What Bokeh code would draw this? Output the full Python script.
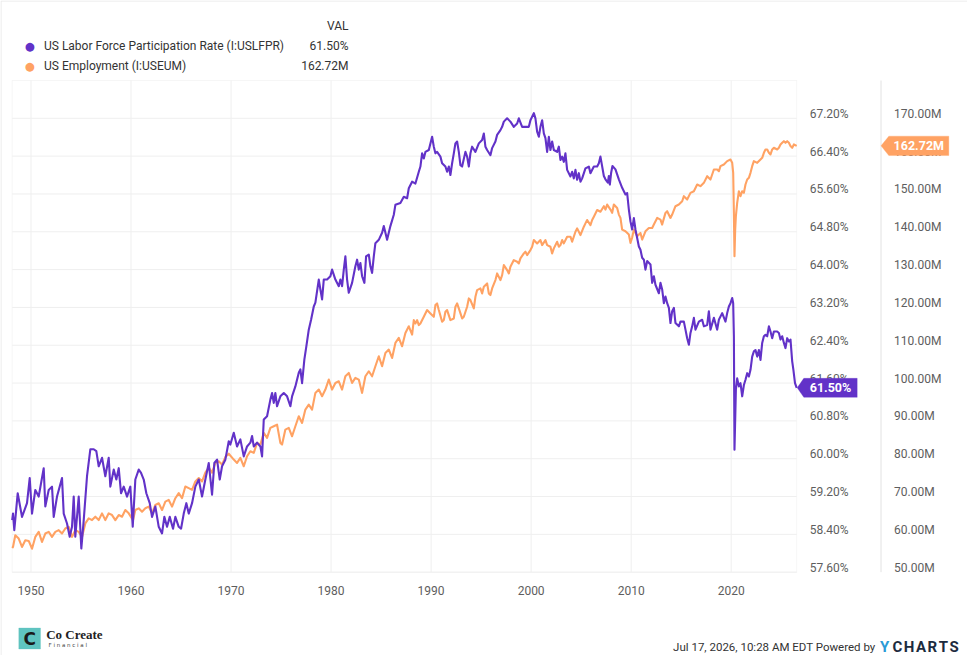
from bokeh.plotting import figure
from bokeh.models import (Range1d, LinearAxis, FixedTicker, PrintfTickFormatter,
                          Label, PolyAnnotation, BoxAnnotation)
from bokeh.embed import file_html
from bokeh.resources import INLINE

# ---------------- data ----------------
lfpr_year = [
    1948.12, 1948.2, 1948.33, 1948.67, 1949.1, 1949.6, 1949.87, 1950.1, 1950.43, 1950.77,
    1951.27, 1951.43, 1951.77, 1952.1, 1952.27, 1952.6, 1953.1, 1953.27, 1953.6, 1953.87,
    1954.1, 1954.27, 1954.43, 1954.77, 1955.03, 1955.27, 1955.6, 1955.93, 1956.27, 1956.53,
    1956.77, 1957.1, 1957.43, 1957.77, 1957.93, 1958.27, 1958.53, 1958.77, 1959.0, 1959.27,
    1959.6, 1959.93, 1960.17, 1960.43, 1960.77, 1961.0, 1961.27, 1961.53, 1961.87, 1962.1,
    1962.43, 1962.77, 1963.1, 1963.33, 1963.6, 1963.87, 1964.2, 1964.43, 1964.77, 1965.0,
    1965.27, 1965.53, 1965.77, 1966.1, 1966.43, 1966.77, 1967.1, 1967.43, 1967.77, 1968.1,
    1968.33, 1968.6, 1968.87, 1969.1, 1969.43, 1969.77, 1969.93,
    1970.27, 1970.6, 1970.93, 1971.27, 1971.6, 1971.93, 1972.1, 1972.27, 1972.6, 1972.93,
    1973.1, 1973.27, 1973.6, 1973.93, 1974.1, 1974.27, 1974.43, 1974.6, 1974.93, 1975.27,
    1975.6, 1975.93, 1976.1, 1976.43, 1976.77, 1976.93, 1977.1, 1977.33, 1977.53, 1977.77,
    1978.0, 1978.27, 1978.43, 1978.77, 1978.93, 1979.1, 1979.27, 1979.6, 1979.93, 1980.1,
    1980.43, 1980.77, 1980.93, 1981.1, 1981.27, 1981.43, 1981.6, 1981.77, 1982.1, 1982.43,
    1982.6, 1982.77, 1982.93, 1983.1, 1983.33, 1983.5, 1983.77, 1983.93, 1984.1, 1984.27,
    1984.43, 1984.77, 1985.1, 1985.27, 1985.6, 1985.93, 1986.27, 1986.43, 1986.93, 1987.27,
    1987.6, 1987.77, 1988.1, 1988.43, 1988.77, 1988.93,
    1989.1, 1989.27, 1989.43, 1989.77, 1990.1, 1990.27, 1990.43, 1990.6, 1990.93, 1991.1,
    1991.43, 1991.6, 1991.77, 1991.93, 1992.1, 1992.27, 1992.43, 1992.6, 1992.77, 1992.93,
    1993.1, 1993.43, 1993.6, 1993.77, 1993.93, 1994.1, 1994.43, 1994.77, 1995.1, 1995.27,
    1995.43, 1995.6, 1995.93, 1996.1, 1996.43, 1996.6, 1996.93, 1997.1, 1997.27, 1997.6,
    1997.93, 1998.27, 1998.6, 1998.77, 1999.1, 1999.43, 1999.77, 1999.93, 2000.27, 2000.43,
    2000.6, 2000.77, 2000.93, 2001.1, 2001.27, 2001.43, 2001.6, 2001.77, 2001.93, 2002.1,
    2002.27, 2002.6, 2002.77, 2002.93, 2003.1, 2003.27, 2003.43, 2003.6, 2003.93, 2004.1,
    2004.27, 2004.43, 2004.6, 2004.77, 2004.93, 2005.1, 2005.43, 2005.77, 2005.93, 2006.27,
    2006.6, 2006.77, 2006.93,
    2007.27, 2007.43, 2007.67, 2007.77, 2007.87, 2008.0, 2008.13, 2008.43, 2008.77, 2009.1,
    2009.43, 2009.6, 2009.77, 2009.93, 2010.1, 2010.27, 2010.43, 2010.6, 2010.77, 2010.93,
    2011.1, 2011.27, 2011.43, 2011.6, 2011.93, 2012.1, 2012.27, 2012.43, 2012.77, 2012.93,
    2013.1, 2013.27, 2013.43, 2013.6, 2013.77, 2013.93, 2014.1, 2014.27, 2014.43, 2014.77,
    2014.93, 2015.27, 2015.43, 2015.6, 2015.77, 2015.93, 2016.1, 2016.27, 2016.43, 2016.77,
    2017.1, 2017.27, 2017.6, 2017.77, 2017.93, 2018.27, 2018.6, 2018.77, 2019.1, 2019.43,
    2019.6, 2019.77, 2019.93, 2020.1, 2020.2, 2020.27, 2020.33, 2020.4, 2020.47, 2020.6,
    2020.77, 2020.93, 2021.1, 2021.27, 2021.43, 2021.6, 2021.77, 2021.93, 2022.1, 2022.27,
    2022.43, 2022.6, 2022.77, 2022.93, 2023.1, 2023.27, 2023.43, 2023.6, 2023.77, 2023.93,
    2024.1, 2024.27, 2024.6, 2024.77, 2024.93, 2025.1, 2025.27, 2025.43, 2025.6, 2025.77,
    2025.93, 2026.1, 2026.22, 2026.38, 2026.55,
]
lfpr_val = [
    58.70, 58.84, 58.49, 59.27, 58.77, 59.06, 59.59, 58.84, 59.34, 59.20,
    59.80, 58.99, 59.34, 59.41, 58.77, 59.20, 59.59, 58.84, 58.63, 58.35,
    58.56, 59.20, 58.35, 59.20, 58.10, 58.70, 59.63, 60.20, 60.20, 60.16,
    59.84, 60.02, 59.63, 60.02, 59.41, 59.77, 59.56, 59.80, 59.27, 59.41,
    59.20, 59.41, 58.56, 59.56, 59.77, 59.70, 59.56, 59.27, 59.06, 58.77,
    58.99, 58.56, 58.42, 58.77, 58.56, 58.77, 58.52, 58.77, 58.56, 58.52,
    58.84, 59.06, 58.84, 59.06, 59.41, 59.56, 59.20, 59.56, 59.91, 59.24,
    59.91, 59.98, 59.56, 59.84, 59.98, 60.37, 60.30,
    60.55, 60.26, 60.41, 60.05, 60.26, 60.34, 60.48, 60.26, 60.34, 60.26,
    60.05, 60.83, 60.90, 61.25, 61.39, 61.18, 61.39, 61.11, 61.32, 61.39,
    61.32, 61.11, 61.32, 61.53, 61.82, 61.89, 61.60, 62.10, 62.38, 62.73,
    62.94, 63.22, 63.30, 63.79, 63.58, 63.37, 63.79, 63.79, 63.86, 64.00,
    63.79, 63.65, 63.79, 63.65, 64.00, 64.28, 63.79, 63.51, 63.72, 64.07,
    64.21, 64.00, 64.14, 63.86, 63.72, 64.28, 64.32, 64.07, 63.93, 64.28,
    64.56, 64.63, 64.78, 64.92, 64.63, 64.92, 65.16, 65.37, 65.41, 65.54,
    65.51, 65.72, 65.86, 65.82, 66.07, 66.18,
    66.46, 66.35, 66.49, 66.53, 66.81, 66.60, 66.46, 66.49, 66.39, 66.25,
    66.18, 66.07, 66.18, 66.00, 66.25, 66.46, 66.67, 66.71, 66.49, 66.21,
    66.18, 66.49, 66.39, 66.18, 66.46, 66.60, 66.49, 66.67, 66.74, 66.88,
    66.60, 66.53, 66.42, 66.57, 66.71, 66.85, 66.95, 67.02, 67.13, 67.20,
    67.13, 67.02, 67.09, 67.20, 67.02, 67.02, 67.02, 67.16, 67.31, 67.20,
    66.92, 66.81, 67.02, 67.16, 66.88, 66.78, 66.49, 66.81, 66.53, 66.71,
    66.53, 66.49, 66.60, 66.32, 66.39, 66.28, 66.46, 66.11, 65.97, 66.07,
    65.93, 66.11, 65.90, 66.04, 65.86, 65.93, 66.14, 66.18, 66.04, 66.18,
    66.18, 66.25, 66.39,
    65.98, 65.91, 65.84, 65.98, 65.80, 66.05, 66.19, 66.12, 65.91, 65.73,
    65.59, 65.62, 65.27, 65.02, 64.85, 65.09, 64.85, 64.67, 64.49, 64.42,
    64.25, 64.21, 64.00, 64.18, 64.11, 63.72, 63.86, 63.68, 63.50, 63.72,
    63.58, 63.29, 63.43, 63.29, 63.19, 62.87, 63.12, 63.19, 62.87, 62.80,
    62.90, 62.90, 62.73, 62.55, 62.41, 62.66, 62.80, 62.98, 62.73, 62.90,
    62.94, 62.80, 62.83, 63.12, 62.73, 62.98, 62.73, 62.94, 63.08, 62.90,
    63.08, 63.22, 63.29, 63.40, 63.29, 62.59, 60.19, 60.82, 61.46, 61.70,
    61.53, 61.60, 61.32, 61.56, 61.67, 61.81, 61.74, 61.88, 62.16, 62.27,
    62.30, 62.16, 62.30, 62.09, 62.45, 62.59, 62.62, 62.59, 62.80, 62.69,
    62.55, 62.69, 62.69, 62.66, 62.52, 62.59, 62.45, 62.34, 62.55, 62.48,
    62.52, 62.06, 61.88, 61.60, 61.50,
]

emp_year = [
    1948.12, 1948.2, 1948.43, 1948.77, 1949.1, 1949.43, 1949.77, 1950.1, 1950.43, 1950.77,
    1951.1, 1951.43, 1951.77, 1952.1, 1952.43, 1952.77, 1953.1, 1953.43, 1953.77, 1954.1,
    1954.43, 1954.77, 1955.1, 1955.43, 1955.77, 1956.1, 1956.43, 1956.77, 1957.1, 1957.43,
    1957.77, 1958.1, 1958.43, 1958.77, 1959.1, 1959.43, 1959.77, 1960.2, 1960.43, 1960.77,
    1961.1, 1961.43, 1961.77, 1962.1, 1962.43, 1962.77, 1963.1, 1963.43, 1963.77, 1964.1,
    1964.43, 1964.77, 1965.1, 1965.43, 1965.77, 1966.1, 1966.43, 1966.77, 1967.1, 1967.43,
    1967.77, 1968.1, 1968.43, 1968.77, 1969.1, 1969.43, 1969.77,
    1970.27, 1970.6, 1970.93, 1971.27, 1971.6, 1971.93, 1972.27, 1972.6, 1972.93, 1973.27,
    1973.6, 1973.93, 1974.27, 1974.6, 1974.93, 1975.1, 1975.43, 1975.77, 1976.1, 1976.43,
    1976.77, 1977.1, 1977.43, 1977.77, 1978.1, 1978.43, 1978.77, 1979.1, 1979.43, 1979.77,
    1980.1, 1980.43, 1980.77, 1981.1, 1981.43, 1981.77, 1982.1, 1982.43, 1982.77, 1983.1,
    1983.43, 1983.77, 1984.1, 1984.43, 1984.77, 1985.1, 1985.43, 1985.77, 1986.1, 1986.43,
    1986.77, 1987.1, 1987.43, 1987.77, 1988.1,
    1988.27, 1988.43, 1988.6, 1988.77, 1988.93, 1989.27, 1989.6, 1989.93, 1990.27, 1990.43,
    1990.6, 1990.77, 1991.1, 1991.27, 1991.43, 1991.6, 1991.93, 1992.27, 1992.43, 1992.6,
    1992.77, 1993.1, 1993.27, 1993.6, 1993.77, 1993.93, 1994.27, 1994.43, 1994.6, 1994.93,
    1995.1, 1995.27, 1995.6, 1995.77, 1995.93, 1996.1, 1996.43, 1996.6, 1996.93, 1997.1,
    1997.27, 1997.6, 1997.77, 1997.93, 1998.27, 1998.6, 1998.77, 1998.93, 1999.27, 1999.43,
    1999.6, 1999.93, 2000.1, 2000.27, 2000.6, 2000.93, 2001.1, 2001.43, 2001.6, 2001.93,
    2002.1, 2002.27, 2002.6, 2002.77, 2002.93, 2003.1, 2003.27, 2003.6, 2003.93, 2004.1,
    2004.43, 2004.6, 2004.93, 2005.27, 2005.43, 2005.6, 2005.93, 2006.1, 2006.27, 2006.6,
    2006.93,
    2007.27, 2007.43, 2007.6, 2007.93, 2008.1, 2008.27, 2008.6, 2008.77, 2008.93, 2009.1,
    2009.43, 2009.77, 2009.93, 2010.1, 2010.27, 2010.6, 2010.93, 2011.1, 2011.43, 2011.77,
    2012.1, 2012.27, 2012.6, 2012.93, 2013.1, 2013.43, 2013.6, 2013.93, 2014.1, 2014.43,
    2014.77, 2015.1, 2015.27, 2015.6, 2015.93, 2016.27, 2016.6, 2016.93, 2017.27, 2017.6,
    2017.93, 2018.27, 2018.6, 2018.77, 2018.93, 2019.27, 2019.6, 2019.93, 2020.1, 2020.2,
    2020.27, 2020.33, 2020.4, 2020.47, 2020.6, 2020.77, 2020.93, 2021.1, 2021.27, 2021.43,
    2021.6, 2021.77, 2021.93, 2022.1, 2022.27, 2022.6, 2022.93, 2023.1, 2023.27, 2023.43,
    2023.6, 2023.77, 2023.93, 2024.1, 2024.27, 2024.6, 2024.77, 2024.93, 2025.1, 2025.27,
    2025.43, 2025.6, 2025.77, 2025.93, 2026.1, 2026.27, 2026.55,
]
emp_val = [
    56.40, 56.67, 59.78, 58.90, 56.67, 58.44, 58.27, 56.22, 59.33, 60.67,
    58.00, 60.22, 60.67, 59.33, 60.67, 61.11, 60.22, 61.56, 62.00, 59.33,
    61.11, 60.67, 59.33, 62.89, 64.22, 63.78, 64.67, 63.78, 65.56, 63.78,
    65.56, 65.11, 63.78, 65.11, 64.67, 66.44, 65.56, 63.78, 66.44, 66.89,
    66.00, 66.89, 67.33, 65.56, 67.78, 68.22, 66.44, 68.67, 69.11, 67.33,
    69.56, 70.89, 69.56, 72.67, 72.22, 71.78, 74.00, 74.89, 74.00, 76.33,
    77.67, 76.33, 78.89, 79.33, 78.44, 80.44, 81.33,
    79.78, 78.90, 80.22, 78.01, 80.66, 81.98, 81.54, 84.18, 83.74, 86.83,
    85.50, 88.15, 88.59, 89.03, 84.18, 83.74, 87.71, 88.15, 85.94, 88.59,
    91.23, 89.47, 92.99, 94.31, 92.99, 97.40, 98.28, 96.52, 98.28, 100.92,
    98.28, 100.04, 100.48, 98.28, 101.80, 102.68, 100.04, 101.36, 100.92, 97.40,
    101.80, 103.13, 101.80, 104.45, 107.09, 104.45, 107.97, 108.85, 106.65, 110.62,
    111.94, 109.73, 113.26, 115.02, 112.82,
    116.65, 115.77, 116.65, 115.33, 115.77, 117.53, 119.30, 118.41, 117.53, 120.62,
    121.06, 119.30, 116.21, 116.65, 118.86, 119.30, 116.65, 117.09, 120.18, 121.06,
    119.74, 117.09, 117.53, 120.18, 122.38, 121.94, 119.74, 122.82, 124.59, 125.03,
    123.71, 125.47, 126.35, 123.71, 123.26, 125.03, 127.23, 129.00, 127.23, 128.56,
    131.20, 129.88, 129.00, 130.76, 132.52, 132.08, 131.64, 132.96, 134.29, 134.73,
    133.85, 135.17, 136.05, 137.81, 136.93, 137.81, 136.49, 137.81, 136.49, 136.05,
    134.29, 135.61, 137.37, 136.05, 136.49, 137.81, 136.93, 138.70, 138.70, 137.37,
    140.02, 140.90, 139.14, 141.34, 142.22, 143.11, 141.78, 143.11, 143.99, 145.75,
    145.31,
    146.76, 145.88, 147.20, 145.88, 145.00, 147.20, 146.32, 144.55, 143.67, 140.58,
    140.14, 139.26, 137.06, 138.50, 140.58, 138.82, 139.70, 137.94, 140.14, 141.02,
    141.02, 141.91, 143.67, 143.23, 141.91, 145.00, 145.44, 143.67, 144.55, 146.76,
    147.20, 148.08, 149.41, 148.53, 150.29, 150.73, 152.50, 152.06, 152.94, 154.70,
    153.82, 156.47, 156.47, 156.03, 157.35, 157.79, 158.68, 159.12, 158.23, 155.59,
    145.00, 133.52, 140.58, 144.11, 147.64, 150.73, 149.41, 150.73, 150.29, 152.50,
    153.82, 154.26, 155.59, 157.35, 158.68, 158.23, 159.12, 159.56, 160.88, 161.77,
    161.77, 160.88, 160.44, 161.77, 162.21, 161.77, 162.21, 163.09, 163.53, 163.97,
    163.53, 163.97, 163.53, 162.65, 162.21, 163.09, 162.72,
]

year_ticks = [1950, 1960, 1970, 1980, 1990, 2000, 2010, 2020]
pct_ticks = [57.6, 58.4, 59.2, 60.0, 60.8, 61.6, 62.4, 63.2, 64.0, 64.8, 65.6, 66.4, 67.2]
emp_ticks = [50, 60, 70, 80, 90, 100, 110, 120, 130, 140, 150, 160, 170]
pct_lo, pct_hi = 57.6, 68.0
emp_lo, emp_hi = 50.0, 180.0

series_names = ["US Labor Force Participation Rate (I:USLFPR)", "US Employment (I:USEUM)"]
last_labels = ["61.50%", "162.72M"]

# ---------------- styling / layout (pixels) ----------------
PURPLE = "#6232c8"
ORANGE = "#ffa263"
GRID = "#efefef"
FRAME = "#e2e2e2"
TICK_TXT = "#5e5e5e"
DARK = "#333333"
FONT = "Roboto"

W, H = 967, 655
BOX_L, BOX_R, BOX_T, BOX_B = 11.7, 796.2, 80.0, 571.7   # plot box
SEP_X = 880.5                                            # separator before 2nd axis
LAB_UP = 4.5                                             # y labels sit a bit above grid

x0, x1 = lfpr_year[0], lfpr_year[-1]
xpp = (x1 - x0) / (BOX_R - BOX_L)
ppp = (pct_hi - pct_lo) / (BOX_B - BOX_T)
epp = (emp_hi - emp_lo) / (BOX_B - BOX_T)


def px2x(px):
    return x0 + (px - BOX_L) * xpp


def py2pct(py):
    return pct_lo + (BOX_B - py) * ppp


def py2emp(py):
    return emp_lo + (BOX_B - py) * epp


def emp2pct(v):
    return pct_lo + (v - emp_lo) * ppp / epp


p = figure(width=W, height=H, output_backend="svg", toolbar_location=None,
           x_range=Range1d(px2x(0), px2x(W)),
           y_range=Range1d(py2pct(H), py2pct(0)),
           x_axis_location=None, y_axis_location=None, min_border=0)
p.extra_y_ranges = {
    "emp": Range1d(py2emp(H), py2emp(0)),
    "pct_lab": Range1d(py2pct(H) - LAB_UP * ppp, py2pct(0) - LAB_UP * ppp),
    "emp_lab": Range1d(py2emp(H) - LAB_UP * epp, py2emp(0) - LAB_UP * epp),
}
p.background_fill_color = "white"
p.border_fill_color = "white"
p.outline_line_color = None
p.grid.visible = False

# light outer border (top and left edges of the chart card)
p.segment(x0=[px2x(0.5), px2x(0.5)], y0=[py2pct(0.5), py2pct(0.5)],
          x1=[px2x(W), px2x(0.5)], y1=[py2pct(0.5), py2pct(H)],
          line_color="#e8e8e8", line_width=1)

# grid lines and plot box
p.segment(x0=year_ticks, y0=[pct_lo] * len(year_ticks), x1=year_ticks,
          y1=[pct_hi] * len(year_ticks), line_color=GRID, line_width=1)
p.segment(x0=[x0] * len(pct_ticks), y0=pct_ticks, x1=[x1] * len(pct_ticks),
          y1=pct_ticks, line_color=GRID, line_width=1)
p.add_layout(BoxAnnotation(left=x0, right=x1, bottom=pct_lo, top=pct_hi,
                           fill_color=None, line_color=FRAME, line_width=1, level="underlay"))
p.segment(x0=[px2x(SEP_X)], y0=[pct_lo], x1=[px2x(SEP_X)], y1=[pct_hi],
          line_color=FRAME, line_width=1)


def style_axis(ax, standoff):
    ax.axis_line_color = None
    ax.major_tick_line_color = None
    ax.minor_tick_line_color = None
    ax.major_label_standoff = standoff
    ax.major_label_text_font = FONT
    ax.major_label_text_font_size = "12px"
    ax.major_label_text_color = TICK_TXT


xa = LinearAxis(fixed_location=pct_lo, ticker=FixedTicker(ticks=year_ticks),
                formatter=PrintfTickFormatter(format="%d"))
style_axis(xa, 8)
p.add_layout(xa, "below")

ya = LinearAxis(y_range_name="pct_lab", fixed_location=x1,
                ticker=FixedTicker(ticks=pct_ticks),
                formatter=PrintfTickFormatter(format="%.2f%%"))
style_axis(ya, 7)
p.add_layout(ya, "right")

ea = LinearAxis(y_range_name="emp_lab", fixed_location=px2x(SEP_X),
                ticker=FixedTicker(ticks=emp_ticks),
                formatter=PrintfTickFormatter(format="%.2fM"))
style_axis(ea, 7)
p.add_layout(ea, "right")

# series
p.line(emp_year, emp_val, y_range_name="emp", line_color=ORANGE, line_width=2.1,
       line_join="round")
p.line(lfpr_year, lfpr_val, line_color=PURPLE, line_width=2.1, line_join="round")


# ---------------- last-value tags ----------------
def tag(yv_pct, tip, left, right, half, color, text, label_y, rng):
    xs = [px2x(tip), px2x(left), px2x(right), px2x(right), px2x(left)]
    ys = [yv_pct, yv_pct + half * ppp, yv_pct + half * ppp,
          yv_pct - half * ppp, yv_pct - half * ppp]
    p.add_layout(PolyAnnotation(xs=xs, ys=ys, fill_color=color, fill_alpha=1.0,
                                line_color=color, line_width=1))
    kw = {} if rng is None else {"y_range_name": rng}
    p.add_layout(Label(x=px2x((left + right) / 2), y=label_y, text=text,
                       text_align="center", text_baseline="middle",
                       text_color="white", text_font=FONT, text_font_style="bold",
                       text_font_size="12.5px", **kw))


tag(lfpr_val[-1], BOX_R + 0.5, 803.3, 856.7, 9.5, PURPLE, last_labels[0],
    lfpr_val[-1], None)
tag(emp2pct(emp_val[-1]), SEP_X, 888.3, 948.3, 9.7, ORANGE, last_labels[1],
    emp_val[-1], "emp")


# ---------------- header legend & footer ----------------
def plabel(px, py, text, **kw):
    base = dict(x=px2x(px), y=py2pct(py), text=text, text_baseline="middle",
                text_font=FONT, text_font_size="12px", text_color=DARK)
    base.update(kw)
    p.add_layout(Label(**base))


plabel(348, 25.7, "VAL", text_align="right")
for i, (yy, col) in enumerate([(45.3, PURPLE), (65.3, ORANGE)]):
    plabel(29.3, yy, "\u25cf", text_align="center", text_color=col,
           text_font="DejaVu Sans", text_font_size="11.5px")
    plabel(43.5, yy, series_names[i])
    plabel(348, yy, last_labels[i], text_align="right")

plabel(875, 646, "Jul 17, 2026, 10:28 AM EDT Powered by", text_align="right",
       text_font_size="11.5px")
plabel(879.5, 646, "Y", text_font_style="bold", text_font_size="15px", text_color="#2a9ad6")
plabel(892.0, 646, "C\u200aH\u200aA\u200aR\u200aT\u200aS", text_font_style="bold",
       text_font_size="15px", text_color="#1c2b3e")

# small logo bottom-left
lx0, lx1, ly0, ly1 = 18.3, 40.0, 627.5, 648.5
p.add_layout(PolyAnnotation(xs=[px2x(lx0), px2x(lx1), px2x(lx1), px2x(lx0)],
                            ys=[py2pct(ly0), py2pct(ly0), py2pct(ly1), py2pct(ly1)],
                            fill_color="#5fc4c0", fill_alpha=1.0, line_color="#5fc4c0"))
plabel(29.2, 638, "C", text_align="center", text_font="DejaVu Sans", text_font_style="bold",
       text_font_size="17px", text_color="#1a1a1a")
plabel(45.7, 634, "Co Create", text_font="Liberation Serif", text_font_style="bold",
       text_font_size="13px", text_color="#222222")
plabel(48.0, 644.5, "F i n a n c i a l", text_font="DejaVu Sans", text_font_size="5.5px",
       text_color="#444444")

open("out.html", "w").write(file_html(p, INLINE))
